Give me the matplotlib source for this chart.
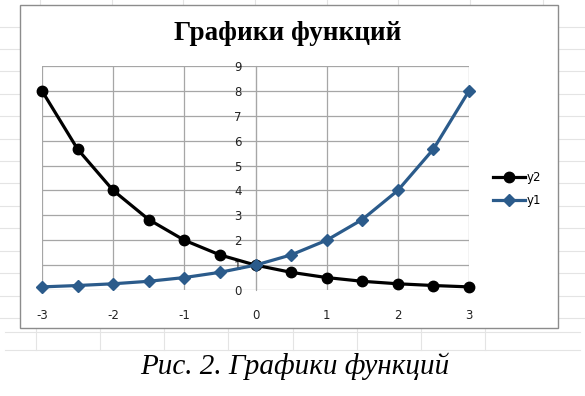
import matplotlib
matplotlib.use("Agg")
from matplotlib import pyplot as plt
from matplotlib.lines import Line2D
from matplotlib.patches import Rectangle

plt.rcParams["axes.unicode_minus"] = False

# data
x_vals = [-3, -2.5, -2, -1.5, -1, -0.5, 0, 0.5, 1, 1.5, 2, 2.5, 3]
y2_vals = [8.0, 5.66, 4.0, 2.83, 2.0, 1.41, 1.0, 0.71, 0.5, 0.35, 0.25, 0.18, 0.125]
y1_vals = [0.125, 0.18, 0.25, 0.35, 0.5, 0.71, 1.0, 1.41, 2.0, 2.83, 4.0, 5.66, 8.0]
x_ticks = [-3, -2, -1, 0, 1, 2, 3]
y_ticks = list(range(0, 10))
title = "Графики функций"
caption = "Рис. 2. Графики функций"

W, H = 585, 396
blue = "#2b5b8b"
grid_c = "#a6a6a6"

fig = plt.figure(figsize=(W / 100, H / 100), dpi=100)

def fx(px):
    return px / W

def fy(py):
    return 1 - py / H

# faint spreadsheet lines behind the chart
faint = "#e4e4e4"
for py in [27, 49, 71, 94, 116, 139, 161, 183, 206, 228, 251, 273, 296, 318]:
    fig.add_artist(Line2D([0, fx(20)], [fy(py), fy(py)], color=faint, lw=0.8, zorder=-2))
    fig.add_artist(Line2D([fx(558), 1], [fy(py), fy(py)], color=faint, lw=0.8, zorder=-2))
for py in [332, 350]:
    fig.add_artist(Line2D([fx(5), fx(580)], [fy(py), fy(py)], color=faint, lw=0.8, zorder=-2))
for px in [36, 100, 164, 228, 293, 357, 421, 485]:
    fig.add_artist(Line2D([fx(px), fx(px)], [fy(328), fy(350)], color=faint, lw=0.8, zorder=-2))
for px in [40, 112, 183, 255, 327, 398, 470, 543]:
    fig.add_artist(Line2D([fx(px), fx(px)], [1, fy(5)], color=faint, lw=0.8, zorder=-2))

# chart frame
fig.add_artist(Rectangle((fx(20), fy(328)), fx(558) - fx(20), fy(5) - fy(328),
                         facecolor="white", edgecolor="#8c8c8c", lw=1.0, zorder=-1))

ax = fig.add_axes([fx(42), fy(290), fx(469) - fx(42), fy(66) - fy(290)])
ax.set_xlim(-3, 3)
ax.set_ylim(0, 9)
ax.set_facecolor("none")

ax.plot(x_vals, y2_vals, color="black", lw=2.3, marker="o", ms=7.5,
        label="y2", clip_on=False, zorder=3)
ax.plot(x_vals, y1_vals, color=blue, lw=2.3, marker="D", ms=6,
        label="y1", clip_on=False, zorder=4)

ax.set_xticks(x_ticks)
ax.set_yticks(y_ticks)
ax.grid(True, color=grid_c, lw=0.9)
ax.set_axisbelow(True)
for s in ["top", "right", "bottom"]:
    ax.spines[s].set_visible(False)
ax.spines["left"].set_position(("data", 0))
ax.spines["left"].set_color(grid_c)
ax.tick_params(axis="both", length=0, labelsize=8.5, colors="#222222")
ax.tick_params(axis="x", pad=14)
ax.tick_params(axis="y", pad=10)

fig.text(fx(288), fy(33), title, ha="center", va="center",
         fontsize=19.5, fontweight="bold", family="Liberation Serif")

fig.legend(loc="center left", bbox_to_anchor=(fx(482), fy(189)), frameon=False,
           fontsize=8.5, handlelength=2.7, handletextpad=0.15, labelspacing=0.9)

fig.text(fx(295), fy(366), caption, ha="center", va="center",
         fontsize=21, style="italic", family="Liberation Serif")

fig.savefig("out.png", dpi=100)
